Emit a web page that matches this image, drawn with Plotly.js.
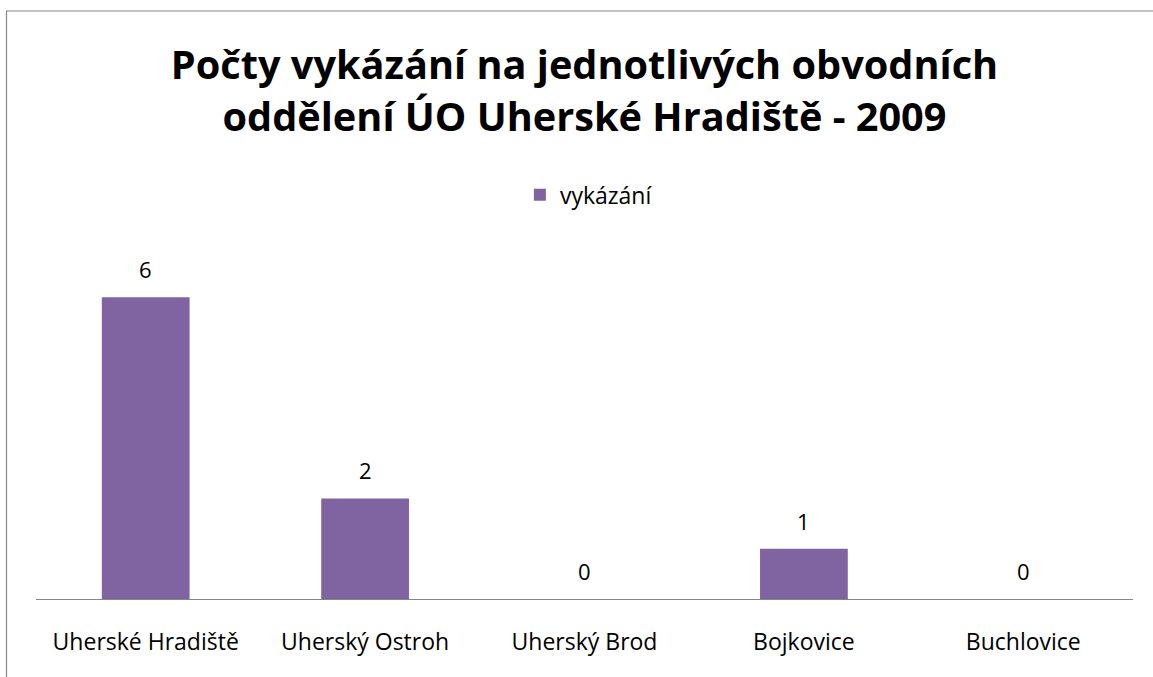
<!DOCTYPE html>
<html>
<head>
<meta charset="utf-8">
<script src="https://cdn.plot.ly/plotly-3.0.1.min.js"></script>
<style>html,body{margin:0;padding:0;background:#fff;}#chart{width:1153px;height:677px;}</style>
</head>
<body>
<div id="chart"></div>
<script>
const categories = ["Uherské Hradiště", "Uherský Ostroh", "Uherský Brod", "Bojkovice", "Buchlovice"];
const values = [6, 2, 0, 1, 0];
const seriesName = "vykázání";
const titleText = "Počty vykázání na jednotlivých obvodních<br>oddělení ÚO Uherské Hradiště - 2009";

const FONT = "Open Sans, Liberation Sans, sans-serif";

const trace = {
  type: "bar",
  x: categories,
  y: values,
  name: seriesName,
  marker: {color: "#8064A2"},
  hoverinfo: "x+y"
};

const annotations = categories.map((c, i) => ({
  x: c, y: values[i], xref: "x", yref: "y",
  text: String(values[i]), showarrow: false,
  yanchor: "middle", yshift: 28,
  font: {family: FONT, size: 22, color: "#000"}
}));

const layout = {
  width: 1153, height: 677,
  margin: {l: 36, r: 20, t: 247, b: 78},
  paper_bgcolor: "#fff", plot_bgcolor: "#fff",
  font: {family: FONT, size: 23, color: "#000"},
  title: {
    text: titleText,
    font: {family: FONT, size: 39.7, color: "#000", weight: "bold"},
    x: 0.5, xref: "paper", xanchor: "center",
    y: 1 - 79/677, yref: "container", yanchor: "middle"
  },
  showlegend: true,
  legend: {
    orientation: "h", x: 0.504, xanchor: "center", y: 1.148, yanchor: "middle",
    font: {family: FONT, size: 23, color: "#000"},
    itemwidth: 30
  },
  bargap: 0.6,
  xaxis: {
    showline: true, linecolor: "#868686", linewidth: 1,
    ticks: "", showgrid: false, zeroline: false,
    tickfont: {family: FONT, size: 23, color: "#000"},
    ticklabelstandoff: 22, fixedrange: true
  },
  yaxis: {
    range: [0, 7], visible: false, showgrid: false, zeroline: false, fixedrange: true
  },
  annotations: annotations,
  shapes: [{
    type: "rect", xref: "paper", yref: "paper",
    x0: (6.5 - 36) / 1097, x1: 1.05, y0: -0.5, y1: (599 - 11) / 352,
    line: {color: "#868686", width: 1.2}, fillcolor: "rgba(0,0,0,0)", layer: "below"
  }]
};

Plotly.newPlot("chart", [trace], layout, {displayModeBar: false, staticPlot: true});
</script>
</body>
</html>
